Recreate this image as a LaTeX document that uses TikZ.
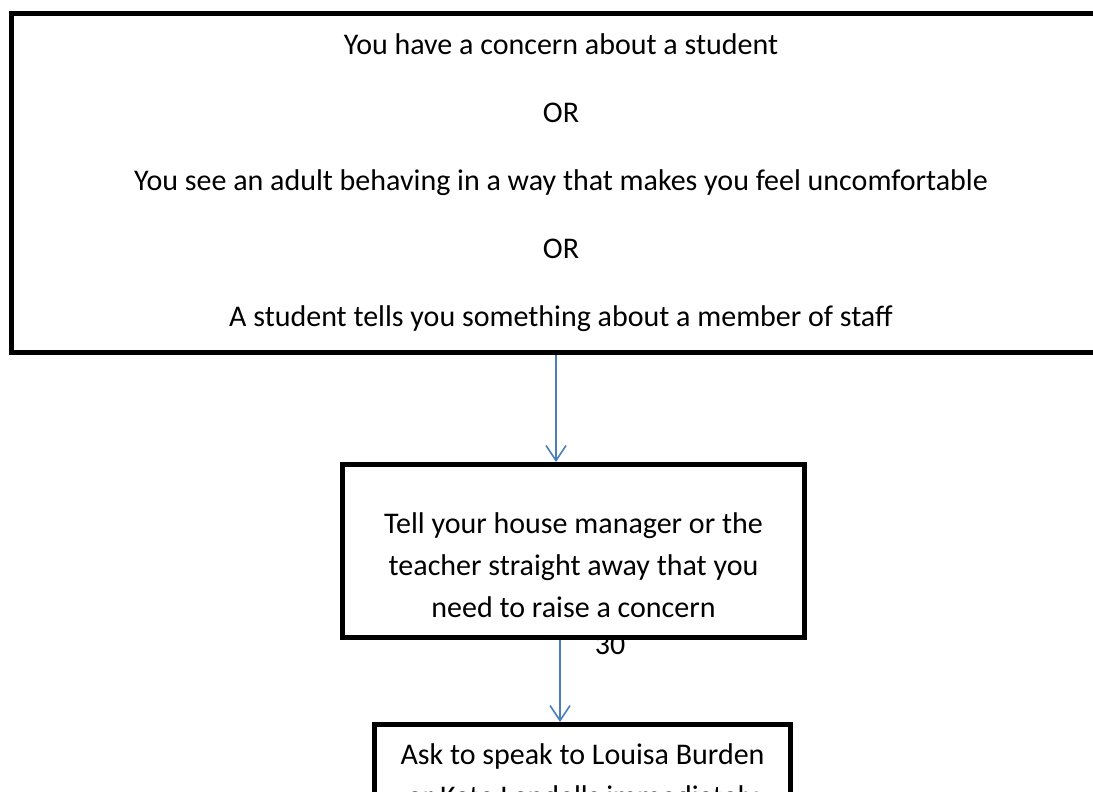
\documentclass[tikz,border=0pt]{standalone}
\usepackage{fontspec}
\setmainfont{Carlito}
\usetikzlibrary{arrows.meta,positioning}
\definecolor{flowblue}{HTML}{4A7EBB}

\begin{document}
\begin{tikzpicture}[
        x=1pt, y=-1pt,
        >={Straight Barb[length=15pt,width=20pt]}, % open arrow head
        font=\fontsize{30}{42}\selectfont]

    \tikzset{box/.style={
            draw = black,
            fill = white,
            line width=5pt,
            align=center
        }}
    \tikzset{flow/.style={->, draw=flowblue, line width=1.6pt}}

    \useasboundingbox (0,0) rectangle (1093,792);
    \clip (0,0) rectangle (1093,792);

    % page number sits under the middle box
    \node (page) at (610,645) {30};

    \node[box, minimum width=1100pt, minimum height=338pt,
        font=\fontsize{30}{68}\selectfont] (concern) at (561,183)
        {You have a concern about a student\\
         OR\\
         You see an adult behaving in a way that makes you feel uncomfortable\\
         OR\\
         A student tells you something about a member of staff};
    % strut pushes the text a bit below the middle
    \node[box, minimum width=462pt, minimum height=173pt] (tell) at (573.5,551)
        {\rule{0pt}{50pt}Tell your house manager or the\\
         teacher straight away that you\\
         need to raise a concern};
    \node[box, minimum width=416pt, minimum height=106pt] (speak) at (582.5,777.5)
        {Ask to speak to Louisa Burden\\
         or Kate Landells immediately};

    \path
    ([xshift=-5pt]concern.south) edge[flow] ([xshift=-5pt]concern.south |- tell.north)
    ([xshift=-13.5pt]tell.south) edge[flow] ([xshift=-13.5pt]tell.south |- speak.north)
    ;
\end{tikzpicture}
\end{document}
